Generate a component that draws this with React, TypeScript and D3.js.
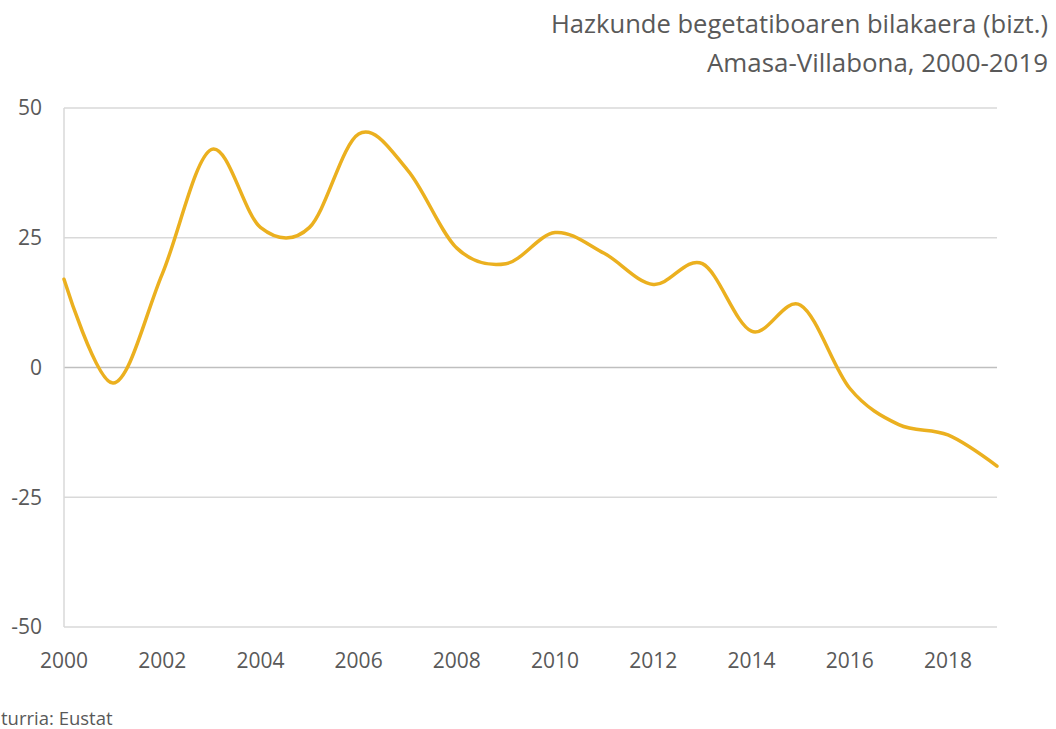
import React, { useEffect, useRef } from "react";
import * as d3 from "d3";

const years = [
  2000, 2001, 2002, 2003, 2004, 2005, 2006, 2007, 2008, 2009,
  2010, 2011, 2012, 2013, 2014, 2015, 2016, 2017, 2018, 2019,
];
const growth = [17, -3, 18, 42, 27, 27, 45, 38, 23, 20, 26, 22, 16, 20, 7, 12, -4, -11, -13, -19];
const yTicks = [-50, -25, 0, 25, 50];
const xTicks = [2000, 2002, 2004, 2006, 2008, 2010, 2012, 2014, 2016, 2018];
const titleLines = ["Hazkunde begetatiboaren bilakaera (bizt.)", "Amasa-Villabona, 2000-2019"];
const titleWidths = [497, 341];
const source = "turria: Eustat";

const width = 1056;
const height = 729;
const left = 64;
const right = 997;
const top = 108;
const bottom = 627;
const font = "'Open Sans', sans-serif";
const textColor = "#595959";

const App = () => {
  const ref = useRef<SVGSVGElement>(null);

  useEffect(() => {
    const svg = d3.select(ref.current);
    svg.selectAll("*").remove();

    const x = d3.scaleLinear().domain([2000, 2019]).range([left, right]);
    const y = d3.scaleLinear().domain([-50, 50]).range([bottom, top]);

    // gridlines
    svg
      .selectAll("line.grid")
      .data(yTicks)
      .enter()
      .append("line")
      .attr("class", "grid")
      .attr("x1", left)
      .attr("x2", right)
      .attr("y1", (d) => y(d))
      .attr("y2", (d) => y(d))
      .attr("stroke", (d) => (d === 0 ? "#bfbfbf" : "#d9d9d9"))
      .attr("stroke-width", 1.5);

    // left axis line
    svg
      .append("line")
      .attr("x1", left)
      .attr("x2", left)
      .attr("y1", top)
      .attr("y2", bottom)
      .attr("stroke", "#d9d9d9")
      .attr("stroke-width", 1.5);

    svg
      .selectAll("text.ytick")
      .data(yTicks)
      .enter()
      .append("text")
      .attr("class", "ytick")
      .attr("x", 42)
      .attr("y", (d) => y(d))
      .attr("dy", "0.35em")
      .attr("text-anchor", "end")
      .attr("font-family", font)
      .attr("font-size", 21)
      .attr("fill", textColor)
      .text((d) => d);

    svg
      .selectAll("text.xtick")
      .data(xTicks)
      .enter()
      .append("text")
      .attr("class", "xtick")
      .attr("x", (d) => x(d))
      .attr("y", 668)
      .attr("text-anchor", "middle")
      .attr("font-family", font)
      .attr("font-size", 21)
      .attr("fill", textColor)
      .text((d) => d);

    const line = d3
      .line<number>()
      .x((d, i) => x(years[i]))
      .y((d) => y(d))
      .curve(d3.curveCardinal.tension(0));

    svg
      .append("path")
      .datum(growth)
      .attr("d", line)
      .attr("fill", "none")
      .attr("stroke", "#ebb01f")
      .attr("stroke-width", 3.5)
      .attr("stroke-linecap", "round");

    svg
      .selectAll("text.title")
      .data(titleLines)
      .enter()
      .append("text")
      .attr("class", "title")
      .attr("x", 1048)
      .attr("y", (d, i) => 33 + i * 39)
      .attr("text-anchor", "end")
      .attr("font-family", font)
      .attr("font-size", 26)
      .attr("textLength", (d, i) => titleWidths[i])
      .attr("lengthAdjust", "spacingAndGlyphs")
      .attr("fill", textColor)
      .text((d) => d);

    svg
      .append("text")
      .attr("x", 1)
      .attr("y", 725)
      .attr("font-family", font)
      .attr("font-size", 18.5)
      .attr("fill", textColor)
      .text(source);
  }, []);

  return (
    <svg
      ref={ref}
      width={width}
      height={height}
      style={{ position: "absolute", left: 0, top: 0, background: "#fff" }}
    />
  );
};

export default App;
